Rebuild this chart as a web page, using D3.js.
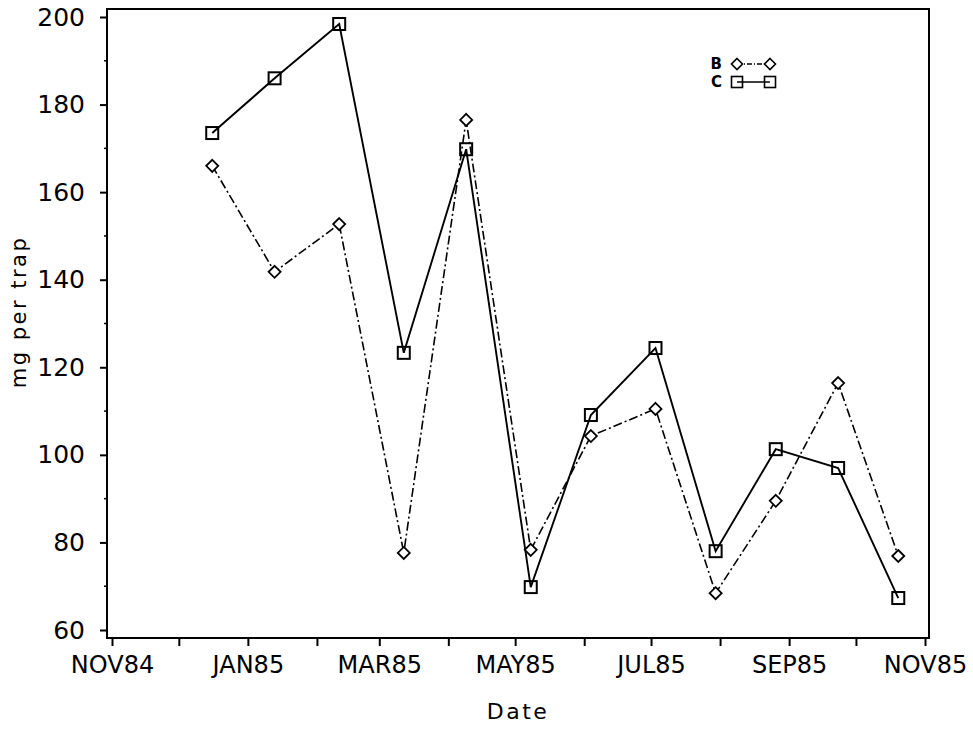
<!DOCTYPE html>
<html>
<head>
<meta charset="utf-8">
<script src="https://cdn.jsdelivr.net/npm/d3@7"></script>
<style>
  html, body { margin: 0; padding: 0; background: #fff; }
  svg { display: block; }
  text { font-family: "DejaVu Sans", "Liberation Sans", sans-serif; fill: #000; }
</style>
</head>
<body>
<svg id="chart" width="973" height="748"></svg>
<script>
// Sampling dates (trap collections) and catch per trap for two sites
const sampleDates = ["1984-12-16", "1985-01-13", "1985-02-11", "1985-03-12", "1985-04-09", "1985-05-08",
                     "1985-06-04", "1985-07-03", "1985-07-30", "1985-08-26", "1985-09-23", "1985-10-20"];
const seriesB = [166, 141.8, 152.7, 77.6, 176.5, 78.3, 104.3, 110.5, 68.4, 89.5, 116.4, 76.9];
const seriesC = [173.5, 186, 198.4, 123.3, 169.8, 69.8, 109.1, 124.4, 78, 101.3, 97, 67.3];
const yTicks = [60, 80, 100, 120, 140, 160, 180, 200];
const yMinorTicks = [70, 90, 110, 130, 150, 170, 190];
const xStart = "1984-11-01";
const xEnd = "1985-11-01";

const svg = d3.select("#chart");
const parse = d3.utcParse("%Y-%m-%d");

const frame = { left: 107, right: 929, top: 9, bottom: 638 };

const x = d3.scaleUtc()
  .domain([parse(xStart), parse(xEnd)])
  .range([112, 925]);
const y = d3.scaleLinear()
  .domain([60, 200])
  .range([630, 17]);

// Plot frame
svg.append("rect")
  .attr("x", frame.left).attr("y", frame.top)
  .attr("width", frame.right - frame.left)
  .attr("height", frame.bottom - frame.top)
  .attr("fill", "none").attr("stroke", "#000").attr("stroke-width", 2);

// X axis: monthly ticks, labelled every second month
const months = d3.utcMonth.range(parse(xStart), d3.utcDay.offset(parse(xEnd), 1));
const fmtMonth = d3.utcFormat("%b%y");
const xAxis = d3.axisBottom(x)
  .tickValues(months)
  .tickSize(8)
  .tickPadding(10)
  .tickFormat((d, i) => i % 2 === 0 ? fmtMonth(d).toUpperCase() : "");
const gx = svg.append("g")
  .attr("transform", `translate(0,${frame.bottom})`)
  .call(xAxis);
gx.select(".domain").remove();
gx.selectAll(".tick line").attr("stroke", "#000").attr("stroke-width", 2);
gx.selectAll(".tick text")
  .style("font-size", "24px")
  .attr("dy", "0.71em");

// Y axis
const yAxis = d3.axisLeft(y)
  .tickValues(yTicks)
  .tickSize(7)
  .tickPadding(15)
  .tickFormat(d3.format("d"));
const gy = svg.append("g")
  .attr("transform", `translate(${frame.left},0)`)
  .call(yAxis);
gy.select(".domain").remove();
gy.selectAll(".tick line").attr("stroke", "#000").attr("stroke-width", 2);
gy.selectAll(".tick text")
  .style("font-size", "25px");

svg.append("g").selectAll("line")
  .data(yMinorTicks)
  .join("line")
  .attr("x1", frame.left - 3).attr("x2", frame.left)
  .attr("y1", d => y(d)).attr("y2", d => y(d))
  .attr("stroke", "#000").attr("stroke-width", 1.5);

// Axis titles
svg.append("text")
  .attr("x", (frame.left + frame.right) / 2)
  .attr("y", 719)
  .attr("text-anchor", "middle")
  .style("font-size", "22px")
  .style("letter-spacing", "2.5px")
  .text("Date");

svg.append("text")
  .attr("transform", "translate(26,312) rotate(-90)")
  .attr("text-anchor", "middle")
  .style("font-size", "21px")
  .style("letter-spacing", "2.5px")
  .text("mg per trap");

// Series lines
const dates = sampleDates.map(parse);
const line = d3.line().x(d => x(d[0])).y(d => y(d[1]));
const dataB = dates.map((d, i) => [d, seriesB[i]]);
const dataC = dates.map((d, i) => [d, seriesC[i]]);

svg.append("path")
  .datum(dataB)
  .attr("d", line)
  .attr("fill", "none").attr("stroke", "#000").attr("stroke-width", 1.6)
  .attr("stroke-dasharray", "9,3,2,3");
svg.append("path")
  .datum(dataC)
  .attr("d", line)
  .attr("fill", "none").attr("stroke", "#000").attr("stroke-width", 1.9);

// Markers
const diamond = (s) => `M0,${-s}L${s},0L0,${s}L${-s},0Z`;
svg.append("g").selectAll("path")
  .data(dataB)
  .join("path")
  .attr("transform", d => `translate(${x(d[0])},${y(d[1])})`)
  .attr("d", diamond(6))
  .attr("fill", "#fff").attr("stroke", "#000").attr("stroke-width", 1.8);
svg.append("g").selectAll("rect")
  .data(dataC)
  .join("rect")
  .attr("x", d => x(d[0]) - 6).attr("y", d => y(d[1]) - 6)
  .attr("width", 12).attr("height", 12)
  .attr("fill", "none").attr("stroke", "#000").attr("stroke-width", 2);

// Legend
const legend = svg.append("g");
const legendItems = [
  { key: "B", yPos: 64, dash: "5,2,1,2" },
  { key: "C", yPos: 82, dash: null }
];
legendItems.forEach(item => {
  legend.append("text")
    .attr("x", 722).attr("y", item.yPos)
    .attr("dy", "0.36em")
    .attr("text-anchor", "end")
    .style("font-size", "15px")
    .style("font-weight", "bold")
    .text(item.key);
  legend.append("line")
    .attr("x1", 737).attr("x2", 770)
    .attr("y1", item.yPos).attr("y2", item.yPos)
    .attr("stroke", "#000").attr("stroke-width", 1.5)
    .attr("stroke-dasharray", item.dash);
  [737, 770].forEach(px => {
    if (item.key === "B") {
      legend.append("path")
        .attr("transform", `translate(${px},${item.yPos})`)
        .attr("d", diamond(5.5))
        .attr("fill", "#fff").attr("stroke", "#000").attr("stroke-width", 1.6);
    } else {
      legend.append("rect")
        .attr("x", px - 5.5).attr("y", item.yPos - 5.5)
        .attr("width", 11).attr("height", 11)
        .attr("fill", "none").attr("stroke", "#000").attr("stroke-width", 1.6);
    }
  });
});
</script>
</body>
</html>
